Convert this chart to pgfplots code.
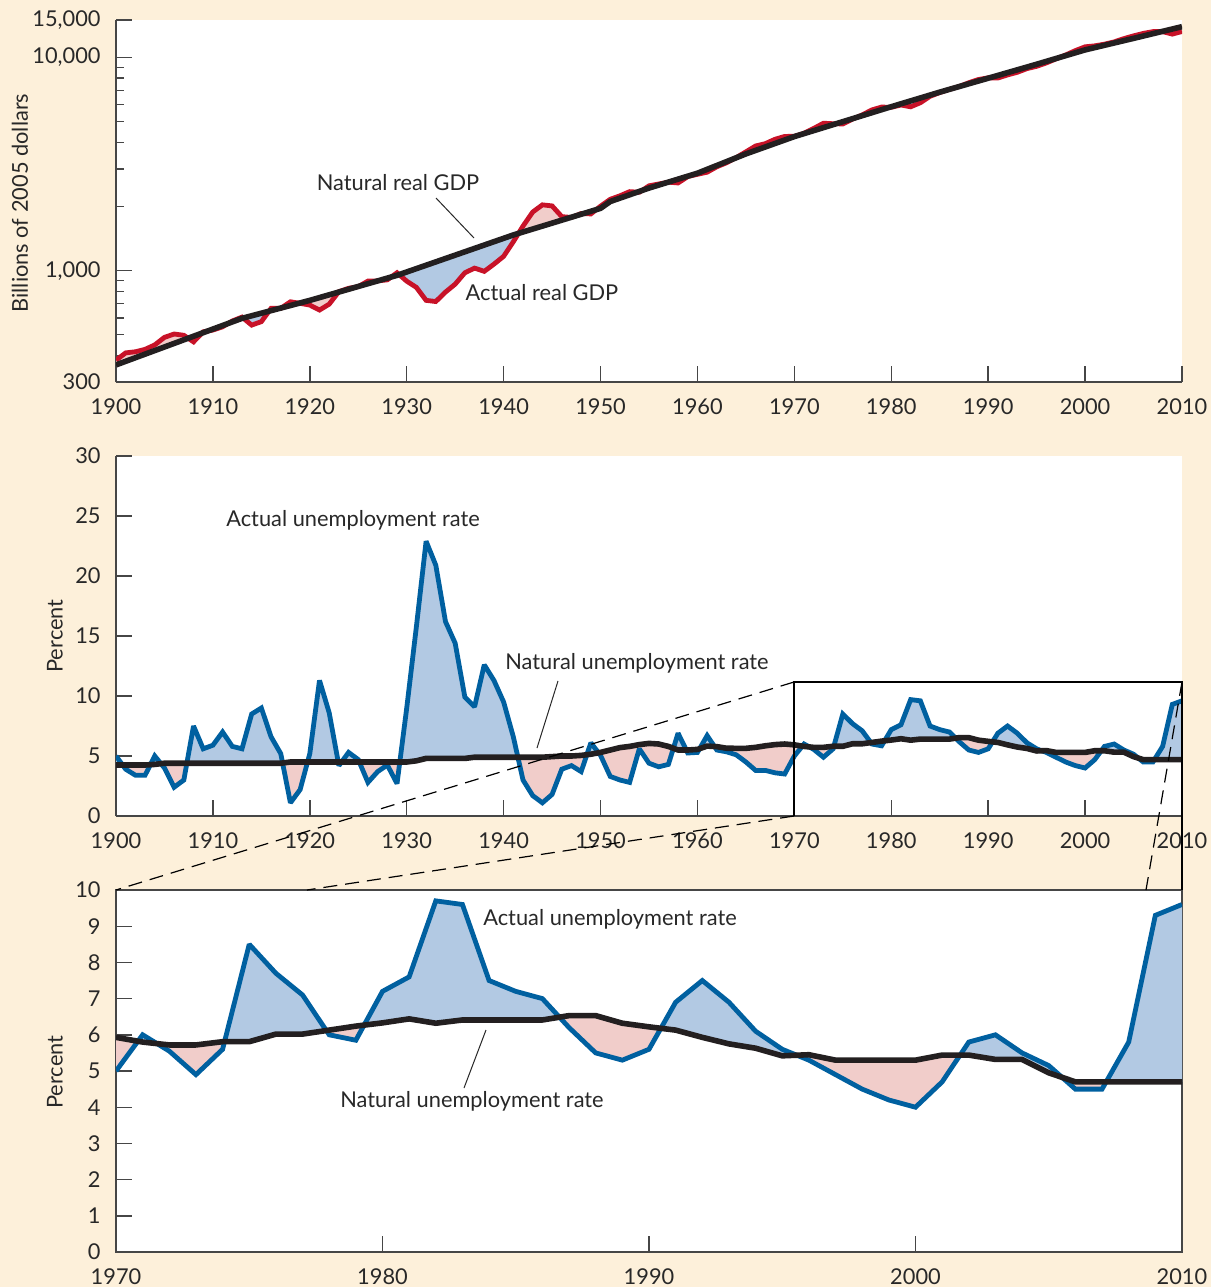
\documentclass[border=0pt]{standalone}
\usepackage{fontspec}
\setmainfont{Lato}
\usepackage{pgfplots}
\pgfplotsset{compat=1.18}
\usepackage{pgfplotstable}
\usepgfplotslibrary{fillbetween}

\definecolor{cream}{RGB}{253,240,218}
\definecolor{gdpred}{RGB}{200,18,40}
\definecolor{natblack}{RGB}{35,31,32}
\definecolor{ublue}{RGB}{0,96,160}
\definecolor{fillblue}{RGB}{178,201,227}
\definecolor{fillpink}{RGB}{241,205,202}
\definecolor{axisgray}{RGB}{70,70,70}
\definecolor{textgray}{RGB}{40,40,40}
\pagecolor{cream}

\pgfplotstableread{
year gdp
1900 380
1901 411
1902 416
1903 427
1904 448
1905 486
1906 504
1907 497
1908 463
1909 516
1910 526
1911 545
1912 580
1913 605
1914 555
1915 576
1916 665
1917 665
1918 714
1919 702
1920 689
1921 653
1922 696
1923 797
1924 826
1925 841
1926 893
1927 895
1928 905
1929 977
1930 892
1931 834
1932 725
1933 716
1934 793
1935 864
1936 977
1937 1027
1938 992
1939 1072
1940 1167
1941 1366
1942 1618
1943 1883
1944 2035
1945 2012
1946 1792
1947 1776
1948 1854
1949 1845
1950 2006
1951 2161
1952 2244
1953 2347
1954 2332
1955 2500
1956 2550
1957 2601
1958 2578
1959 2763
1960 2831
1961 2897
1962 3072
1963 3207
1964 3392
1965 3610
1966 3845
1967 3943
1968 4133
1969 4262
1970 4270
1971 4413
1972 4648
1973 4917
1974 4890
1975 4880
1976 5141
1977 5378
1978 5678
1979 5855
1980 5839
1981 5987
1982 5871
1983 6136
1984 6577
1985 6849
1986 7087
1987 7313
1988 7614
1989 7886
1990 8034
1991 8015
1992 8287
1993 8523
1994 8871
1995 9094
1996 9434
1997 9854
1998 10284
1999 10780
2000 11226
2001 11347
2002 11553
2003 11841
2004 12264
2005 12638
2006 12976
2007 13229
2008 13228
2009 12881
2010 13248
}\gdpact

\pgfplotstableread{
year gdp
1900 361
1913 597
1920 725
1929 950
1941 1470
1950 1960
1951 2110
1955 2440
1960 2865
1965 3530
1970 4256
1975 5000
1980 5877
1985 6880
1990 7998
1995 9300
2000 10860
2005 12300
2010 13960
}\gdpnat

\pgfplotstableread{
year u n
1900 5.0 4.25
1901 3.9 4.25
1902 3.4 4.25
1903 3.4 4.25
1904 5.0 4.3
1905 4.0 4.4
1906 2.4 4.4
1907 3.0 4.4
1908 7.5 4.4
1909 5.6 4.4
1910 5.9 4.4
1911 7.0 4.4
1912 5.8 4.4
1913 5.6 4.4
1914 8.5 4.4
1915 9.0 4.4
1916 6.6 4.4
1917 5.2 4.4
1918 1.1 4.5
1919 2.2 4.5
1920 5.2 4.5
1921 11.3 4.5
1922 8.6 4.5
1923 4.2 4.5
1924 5.3 4.5
1925 4.7 4.5
1926 2.8 4.5
1927 3.7 4.5
1928 4.25 4.5
1929 2.7 4.5
1930 9.0 4.5
1931 15.8 4.6
1932 22.9 4.8
1933 20.9 4.8
1934 16.2 4.8
1935 14.4 4.8
1936 9.9 4.8
1937 9.1 4.9
1938 12.6 4.9
1939 11.3 4.9
1940 9.5 4.9
1941 6.6 4.9
1942 3.0 4.9
1943 1.7 4.9
1944 1.1 4.9
1945 1.8 4.95
1946 3.9 5.0
1947 4.2 5.0
1948 3.7 5.05
1949 6.1 5.15
1950 5.05 5.3
1951 3.3 5.5
1952 3.0 5.7
1953 2.8 5.8
1954 5.6 5.95
1955 4.4 6.05
1956 4.1 6.0
1957 4.3 5.8
1958 6.9 5.5
1959 5.25 5.5
1960 5.3 5.55
1961 6.7 5.83
1962 5.5 5.78
1963 5.35 5.65
1964 5.1 5.64
1965 4.5 5.64
1966 3.8 5.72
1967 3.8 5.85
1968 3.6 5.95
1969 3.5 6.0
1970 5.0 5.93
1971 6.0 5.8
1972 5.55 5.72
1973 4.9 5.72
1974 5.6 5.81
1975 8.5 5.81
1976 7.7 6.02
1977 7.1 6.02
1978 6.0 6.13
1979 5.85 6.24
1980 7.2 6.33
1981 7.6 6.44
1982 9.7 6.32
1983 9.6 6.41
1984 7.5 6.41
1985 7.2 6.41
1986 7.0 6.41
1987 6.2 6.53
1988 5.5 6.53
1989 5.3 6.32
1990 5.6 6.22
1991 6.9 6.13
1992 7.5 5.93
1993 6.9 5.75
1994 6.1 5.63
1995 5.6 5.42
1996 5.3 5.45
1997 4.9 5.30
1998 4.5 5.30
1999 4.2 5.30
2000 4.0 5.30
2001 4.7 5.44
2002 5.8 5.44
2003 6.0 5.32
2004 5.5 5.32
2005 5.15 4.95
2006 4.5 4.70
2007 4.5 4.70
2008 5.8 4.70
2009 9.3 4.70
2010 9.6 4.70
}\unemp

\pgfplotsset{
  panel/.style={
    scale only axis,
    width=533pt,
    axis background/.style={fill=white},
    tick align=inside,
    major tick length=8pt,
    minor tick length=4pt,
    every tick/.append style={draw=axisgray, line width=0.7pt},
    axis line style={-, draw=axisgray, line width=0.8pt},
    tick label style={font=\fontsize{10.9}{13}\selectfont, text=textgray, inner sep=0pt},
    /pgf/number format/assume math mode=true,
    /pgf/number format/1000 sep={},
    yticklabel style={xshift=-7.5pt},
    xticklabel style={yshift=-8pt},
  },
  actline/.style={line width=2.4pt, line join=miter, miter limit=2},
  natline/.style={draw=natblack, line width=2.8pt, line join=round},
}

\begin{document}
\begin{tikzpicture}
\path (0,0) rectangle (605.5pt,-643.5pt);

% ---------- top panel: real GDP (log scale) ----------
\begin{axis}[panel, at={(58pt,-191pt)}, anchor=south west, height=181pt,
  xmin=1900, xmax=2010, xtick={1900,1910,...,2010},
  ymin=2.47712, ymax=4.17609,
  ytick={2.47712,3,4,4.17609}, yticklabels={300,{1,000},{10,000},{15,000}},
  minor ytick={2.60206,2.69897,2.77815,2.84510,2.90309,2.95424,3.30103,3.47712,3.60206,3.69897,3.77815,3.84510,3.90309,3.95424},
  axis x line*=bottom, axis y line*=left]
\addplot[actline, draw=gdpred, name path=ga] table[x=year,y expr={log10(\thisrow{gdp})}]{\gdpact};
\addplot[natline, name path=gn] table[x=year,y expr={log10(\thisrow{gdp})}]{\gdpnat};
\addplot[fill=fillpink, draw=none] fill between[of=ga and gn, split,
   every even segment/.style={fill=fillpink},
   every odd segment/.style={fill=fillblue}];
\end{axis}

% ---------- middle panel: unemployment 1900-2010 ----------
\begin{axis}[panel, at={(58pt,-408pt)}, anchor=south west, height=180pt,
  xmin=1900, xmax=2010, xtick={1900,1910,...,2010},
  ymin=0, ymax=30, ytick={0,5,...,30},
  axis x line*=bottom, axis y line*=left]
\addplot[actline, draw=ublue, name path=ua] table[x=year,y=u]{\unemp};
\addplot[natline, name path=un] table[x=year,y=n]{\unemp};
\addplot[fill=fillblue, draw=none] fill between[of=ua and un, split,
   every even segment/.style={fill=fillblue},
   every odd segment/.style={fill=fillpink}];
\end{axis}

% ---------- bottom panel: unemployment 1970-2010 ----------
\begin{axis}[panel, at={(58pt,-626pt)}, anchor=south west, height=181pt,
  xmin=1970, xmax=2010, xtick={1970,1980,...,2010},
  ymin=0, ymax=10, ytick={0,1,...,10}, tick pos=left,
  restrict x to domain=1970:2010]
\addplot[actline, draw=ublue, name path=ba] table[x=year,y=u]{\unemp};
\addplot[natline, name path=bn] table[x=year,y=n]{\unemp};
\addplot[fill=fillpink, draw=none] fill between[of=ba and bn, split,
   every even segment/.style={fill=fillpink},
   every odd segment/.style={fill=fillblue}];
\end{axis}

% ---------- zoom box and connectors ----------
\draw[black, line width=0.6pt] (397pt,-408pt) -- (397pt,-341pt) -- (591pt,-341pt) -- (591pt,-445pt);
\draw[black, line width=0.6pt, dash pattern=on 7pt off 4pt] (397pt,-341pt) -- (58pt,-445pt);
\draw[black, line width=0.6pt, dash pattern=on 7pt off 4pt] (397pt,-408pt) -- (153.5pt,-445pt);
\draw[black, line width=0.6pt, dash pattern=on 7pt off 4pt] (591pt,-341pt) -- (573pt,-445pt);

% ---------- labels ----------
\begin{scope}[every node/.style={font=\fontsize{10.9}{13}\selectfont, text=textgray}]
\node[rotate=90] at (10pt,-101.5pt) {Billions of 2005 dollars};
\node[rotate=90] at (27.5pt,-318pt) {Percent};
\node[rotate=90] at (27.5pt,-536pt) {Percent};
\node at (199pt,-91.5pt) {Natural real GDP};
\node at (271pt,-146.5pt) {Actual real GDP};
\node at (176.5pt,-260pt) {Actual unemployment rate};
\node at (318.5pt,-331.5pt) {Natural unemployment rate};
\node at (305pt,-459.5pt) {Actual unemployment rate};
\node at (236pt,-550.5pt) {Natural unemployment rate};
\end{scope}
\draw[textgray, line width=0.5pt] (218pt,-99pt) -- (237pt,-119pt);
\draw[textgray, line width=0.5pt] (279pt,-340.5pt) -- (268.5pt,-374pt);
\draw[textgray, line width=0.5pt] (243pt,-515pt) -- (232pt,-544pt);
\end{tikzpicture}
\end{document}
